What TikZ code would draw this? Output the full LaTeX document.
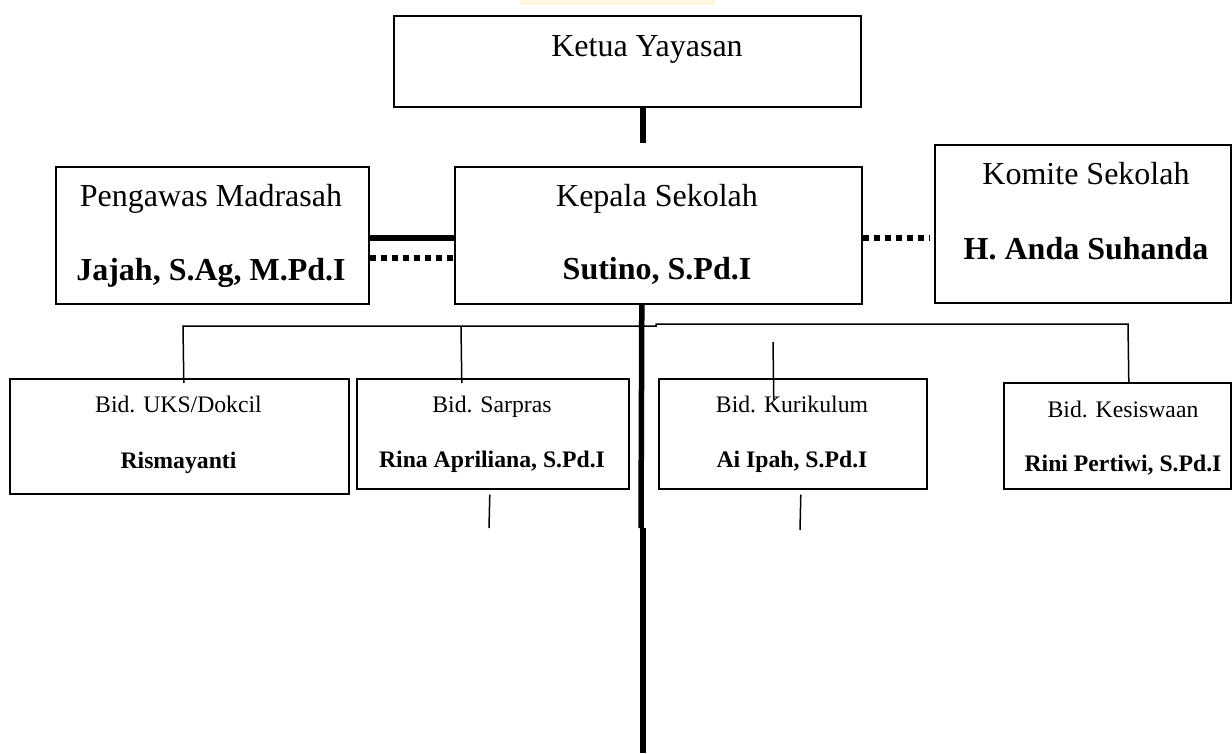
\documentclass[tikz,border=0pt]{standalone}
\usepackage{fontspec}
\setmainfont{Liberation Serif}
\definecolor{wmark}{RGB}{255,247,222}
\begin{document}
\begin{tikzpicture}[x=1pt,y=-1pt,
  box/.style={draw=black,line width=1.6pt,rectangle,inner sep=0pt,anchor=north west},
  bigtxt/.style={anchor=base,inner sep=0pt,font=\fontsize{32}{38}\selectfont},
  bigbold/.style={anchor=base,inner sep=0pt,font=\fontsize{32}{38}\selectfont\bfseries},
  smalltxt/.style={anchor=base,inner sep=0pt,font=\fontsize{23.7}{28}\selectfont},
  smallbold/.style={anchor=base,inner sep=0pt,font=\fontsize{23.7}{28}\selectfont\bfseries},
  thickline/.style={line width=5.5pt},
  dotline/.style={line width=6pt,dash pattern=on 6pt off 5pt},
  thinline/.style={line width=1.5pt}]
\useasboundingbox (0,0) rectangle (1232,753);
\fill[wmark] (520,0) rectangle (715,5);
% boxes
\node[box,minimum width=467pt,minimum height=91pt] (ketua) at (393,15) {};
\node[box,minimum width=313pt,minimum height=137pt] (pengawas) at (55,166) {};
\node[box,minimum width=407pt,minimum height=137pt] (kepala) at (454,166) {};
\node[box,minimum width=296pt,minimum height=158pt] (komite) at (934,144) {};
\node[box,minimum width=339pt,minimum height=115pt] (uks) at (9,378) {};
\node[box,minimum width=272pt,minimum height=110pt] (sarpras) at (356,378) {};
\node[box,minimum width=268pt,minimum height=110pt] (kurikulum) at (658,378) {};
\node[box,minimum width=227pt,minimum height=106pt] (kesiswaan) at (1003,382) {};
% texts
\node[bigtxt] (tketua) at (647,56) {Ketua Yayasan};
\node[bigtxt] (tpeng) at (211,206) {Pengawas Madrasah};
\node[bigbold] (npeng) at (211,280) {Jajah, S.Ag, M.Pd.I};
\node[bigtxt] (tkep) at (657,206) {Kepala Sekolah};
\node[bigbold] (nkep) at (657,279) {Sutino, S.Pd.I};
\node[bigtxt] (tkom) at (1086,184) {Komite Sekolah};
\node[bigbold] (nkom) at (1086,259) {H. Anda Suhanda};
\node[smalltxt] (tuks) at (178.5,412) {Bid. UKS/Dokcil};
\node[smallbold] (nuks) at (178.5,468) {Rismayanti};
\node[smalltxt] (tsar) at (492,412) {Bid. Sarpras};
\node[smallbold] (nsar) at (492,467) {Rina Apriliana, S.Pd.I};
\node[smalltxt] (tkur) at (792,412) {Bid. Kurikulum};
\node[smallbold] (nkur) at (792,467) {Ai Ipah, S.Pd.I};
\node[smalltxt] (tkes) at (1123,417) {Bid. Kesiswaan};
\node[smallbold] (nkes) at (1123,471) {Rini Pertiwi, S.Pd.I};
% connectors
\coordinate (k1) at (643,143);
\draw[thickline] (ketua.south -| k1) -- (k1);
\draw[thickline] ([yshift=-2.5pt]pengawas.east) -- ([yshift=-2.5pt]kepala.west);
\draw[dotline] ([yshift=-22.5pt]pengawas.east) -- ([yshift=-22.5pt]kepala.west);
\draw[dotline] ([yshift=-2.5pt]kepala.east) -- ([xshift=-5pt,yshift=-14pt]komite.west);
\coordinate (trunkA) at (641,528);
\coordinate (trunkB) at (643,528);
\coordinate (trunkEnd) at (643,753);
\draw[thickline] ([xshift=-16.5pt]kepala.south) -- (trunkA);
\draw[thickline] (trunkB) -- (trunkEnd);
\coordinate (busL) at (183,326);
\coordinate (busM1) at (656,326);
\coordinate (busM2) at (656,324);
\coordinate (busR) at (1128,324);
\draw[thinline] ([xshift=4.5pt,yshift=-5pt]uks.north) -- (busL) -- (busM1) -- (busM2) -- (busR) -- ([xshift=11.5pt]kesiswaan.north);
\coordinate (sarTop) at (461,326);
\draw[thinline] (sarTop) -- ([xshift=-31pt,yshift=-5pt]sarpras.north);
\coordinate (kurTop) at (773,342);
\draw[thinline] (kurTop) -- ([xshift=-19pt,yshift=-22pt]kurikulum.north);
\coordinate (sarEnd) at (489,528);
\draw[thinline] ([xshift=-3pt,yshift=-5pt]sarpras.south) -- (sarEnd);
\coordinate (kurEnd) at (800,530);
\draw[thinline] ([xshift=8pt,yshift=-5pt]kurikulum.south) -- (kurEnd);
\end{tikzpicture}
\end{document}
